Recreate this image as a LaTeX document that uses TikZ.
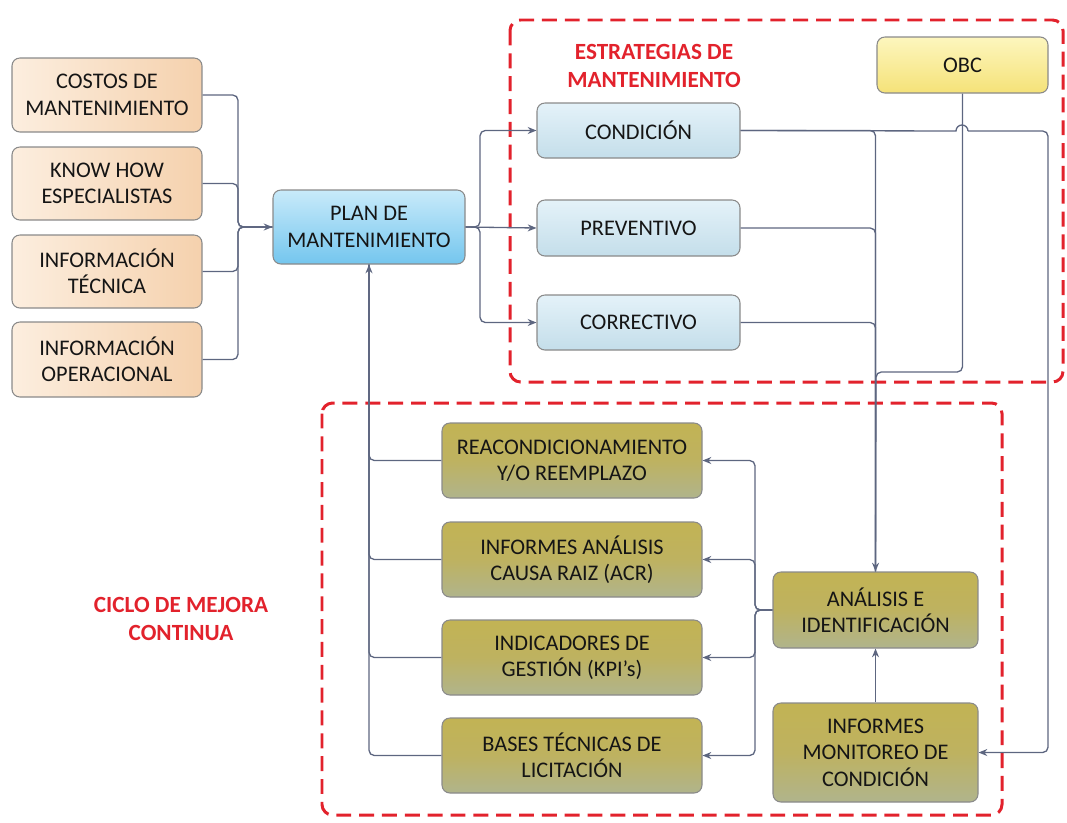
\documentclass[tikz,border=0pt]{standalone}
\usepackage{fontspec}
\setmainfont{Carlito}
\usetikzlibrary{arrows.meta}
\definecolor{lnk}{HTML}{5D6680}
\definecolor{frame}{HTML}{E2222C}
\definecolor{bord}{HTML}{8A8A8A}
\definecolor{txt}{HTML}{151515}
\newcommand{\mybox}[7]{\node[#6, minimum width={(#4-#2)*0.02cm}, minimum height={(#5-#3)*0.02cm}] (#1) at ({(#2+#4)/2},{(#3+#5)/2}) {#7};}
\begin{document}
\begin{tikzpicture}[x=0.02cm,y=-0.02cm,
  base/.style={draw=bord, line width=0.6pt, rounded corners=4.5pt, inner sep=0pt, align=center,
    text=txt, font=\fontsize{12.7}{15}\selectfont},
  lpeach/.style={base, left color={rgb,255:red,252;green,238;blue,223}, right color={rgb,255:red,245;green,209;blue,173}},
  lplan/.style={base, top color={rgb,255:red,200;green,234;blue,250}, bottom color={rgb,255:red,116;green,198;blue,238}},
  lstrat/.style={base, top color={rgb,255:red,228;green,242;blue,249}, bottom color={rgb,255:red,196;green,222;blue,234}},
  lobc/.style={base, top color={rgb,255:red,253;green,246;blue,190}, bottom color={rgb,255:red,245;green,226;blue,120}},
  lolive/.style={base, top color={rgb,255:red,194;green,179;blue,84}, bottom color={rgb,255:red,176;green,180;blue,140}, middle color={rgb,255:red,190;green,178;blue,96}},
  conn/.style={draw=lnk, line width=0.75pt, rounded corners=3pt},
  arr/.style={conn, -{Stealth[length=5pt,width=4pt]}},
  redframe/.style={draw=frame, line width=1.7pt, dash pattern=on 8.5pt off 4.5pt, rounded corners=6pt},
  title/.style={text=frame, font=\bfseries\fontsize{13.2}{15.5}\selectfont, align=center}
]
\useasboundingbox (0,0) rectangle (1067,822);

% dashed frames
\draw[redframe] (510,20) rectangle (1063,382);
\draw[redframe] (322,403) rectangle (1002,815);

% titles
\node[title] (t1) at (654,66) {ESTRATEGIAS DE\\MANTENIMIENTO};
\node[title] (t2) at (181,619) {CICLO DE MEJORA\\CONTINUA};

% left inputs
\mybox{l1}{12}{58}{202}{132}{lpeach}{COSTOS DE\\MANTENIMIENTO}
\mybox{l2}{12}{147}{202}{220}{lpeach}{KNOW HOW\\ESPECIALISTAS}
\mybox{l3}{12}{235}{202}{308}{lpeach}{INFORMACIÓN\\TÉCNICA}
\mybox{l4}{12}{322}{202}{397}{lpeach}{INFORMACIÓN\\OPERACIONAL}

% plan
\mybox{plan}{273}{190}{465}{264}{lplan}{PLAN DE\\MANTENIMIENTO}

% strategies
\mybox{cond}{537}{103}{740}{158}{lstrat}{CONDICIÓN}
\mybox{prev}{537}{200}{740}{256}{lstrat}{PREVENTIVO}
\mybox{corr}{537}{295}{740}{350}{lstrat}{CORRECTIVO}
\mybox{obc}{877}{37}{1048}{93}{lobc}{OBC}

% olive boxes
\mybox{r1}{442}{423}{702}{498}{lolive}{REACONDICIONAMIENTO\\Y/O REEMPLAZO}
\mybox{r2}{442}{522}{702}{597}{lolive}{INFORMES ANÁLISIS\\CAUSA RAIZ (ACR)}
\mybox{r3}{442}{620}{702}{695}{lolive}{INDICADORES DE\\GESTIÓN (KPI’s)}
\mybox{r4}{442}{718}{702}{793}{lolive}{BASES TÉCNICAS DE\\LICITACIÓN}
\mybox{anal}{773}{572}{978}{648}{lolive}{ANÁLISIS E\\IDENTIFICACIÓN}
\mybox{mon}{773}{703}{978}{802}{lolive}{INFORMES\\MONITOREO DE\\CONDICIÓN}

% junction coordinates
\coordinate (jL) at (238,227);
\coordinate (jP) at (480,227);
\coordinate (oj) at (876,372);
\coordinate (hopL) at (956,131);
\coordinate (hopR) at (968,131);
\coordinate (rc) at (1048,131);
\coordinate (jA) at (755,610);

% inputs to plan
\draw[conn] (l1.east) -| (jL) -- (plan.west);
\draw[conn] (l2.east) -| (jL) -- (plan.west);
\draw[conn] (l3.east) -| (jL) -- (plan.west);
\draw[arr] (l4.east) -| (jL) -- (plan.west);

% plan to strategies
\draw[arr] (plan.east) -- (jP) |- (cond.west);
\draw[arr] (plan.east) -- (prev.west);
\draw[arr] (plan.east) -- (jP) |- (corr.west);

% strategies to analysis
\draw[conn] (cond.east) -| (anal.north);
\draw[conn] (prev.east) -| (anal.north);
\draw[conn] (corr.east) -| (anal.north);
\draw[arr] (obc.south) |- (oj) -- (anal.north);

% condition to monitoring report (with hop)
\draw[draw=lnk, line width=0.75pt] (cond.east) -- (hopL) arc[start angle=180, end angle=360, radius=6] -- (hopR);
\draw[arr] (hopR) -- (rc) |- (mon.east);

% monitoring to analysis
\draw[arr] (mon.north) -- (anal.south);

% analysis to olive boxes
\draw[arr] (anal.west) -- (jA) |- (r1.east);
\draw[arr] (anal.west) -- (jA) |- (r2.east);
\draw[arr] (anal.west) -- (jA) |- (r3.east);
\draw[arr] (anal.west) -- (jA) |- (r4.east);

% feedback to plan
\draw[conn] (r1.west) -| (plan.south);
\draw[conn] (r2.west) -| (plan.south);
\draw[conn] (r3.west) -| (plan.south);
\draw[arr] (r4.west) -| (plan.south);
\end{tikzpicture}
\end{document}
